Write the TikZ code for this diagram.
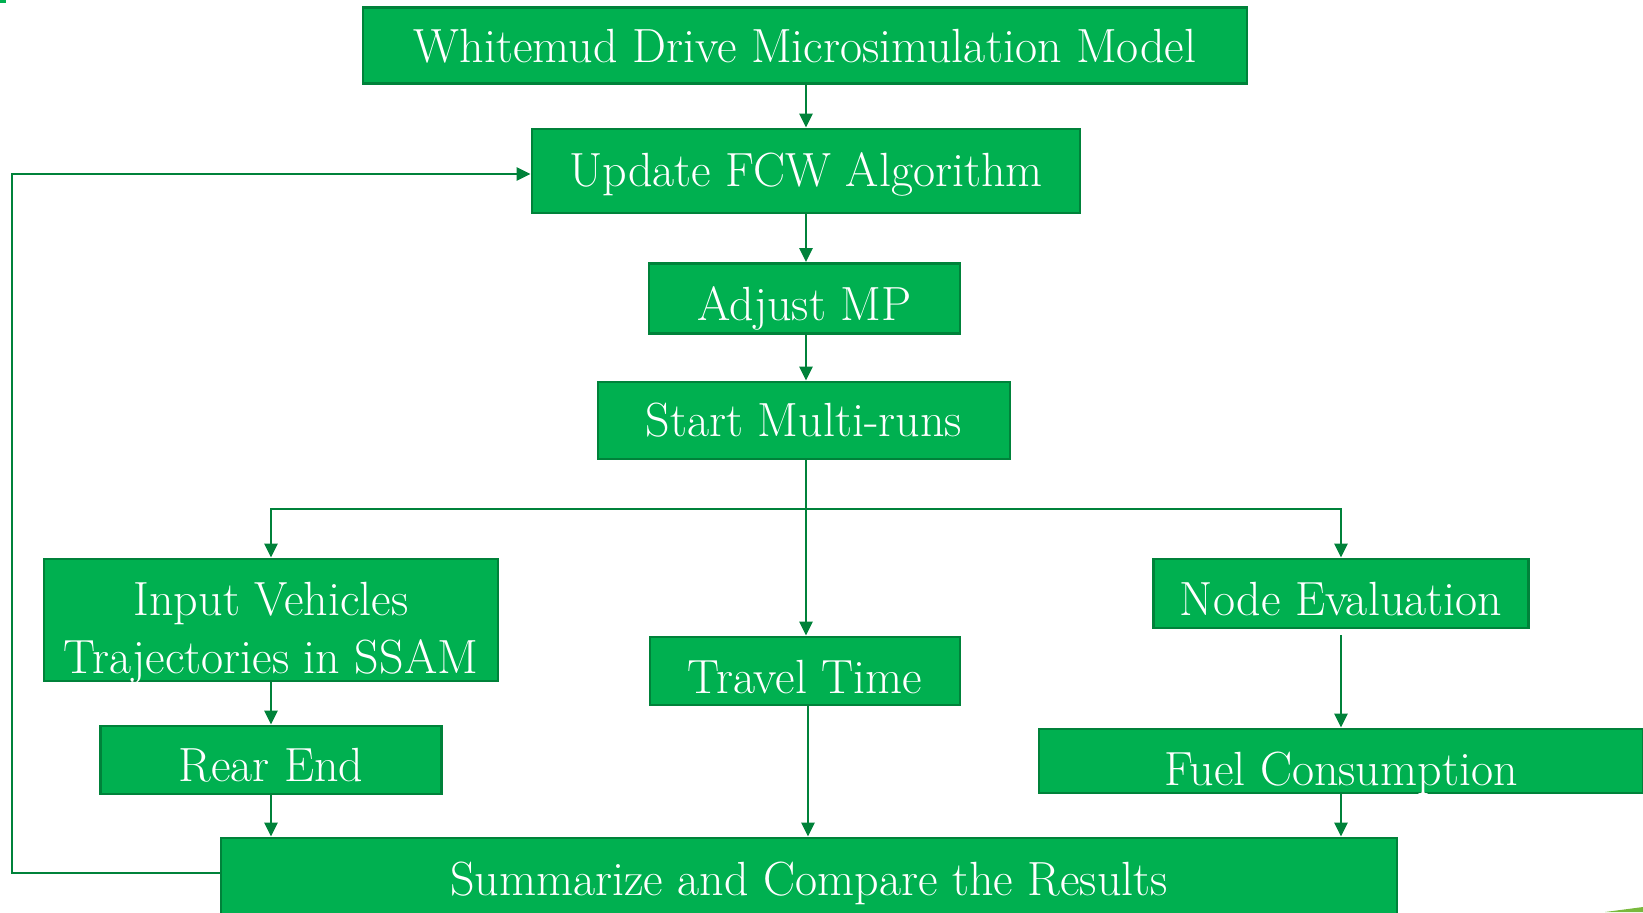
\documentclass[tikz,border=0pt]{standalone}
\usetikzlibrary{arrows.meta}
\definecolor{boxgreen}{RGB}{0,176,80}
\definecolor{edgegreen}{RGB}{0,130,58}
\definecolor{limegreen}{RGB}{120,185,60}
\tikzset{
  box/.style={draw=edgegreen, fill=boxgreen, line width=1.4pt, text=white,
    inner sep=0pt, align=center, text depth=5pt, text height=#1,
    font=\fontsize{24}{28.8}\selectfont},
  box/.default=21pt,
  arrow/.style={draw=edgegreen, line width=1.4pt, -{Triangle[length=7pt,width=6.5pt]}}
}
\begin{document}
\begin{tikzpicture}[x=0.5pt,y=-0.5pt]
    \useasboundingbox (0,0) rectangle (1643,912);
    \clip (0,0) rectangle (1643,912);
    % boxes
    \node[box=21.6pt, minimum width=442pt, minimum height=38pt] (model) at (805,45.5) {Whitemud Drive Microsimulation Model};
    \node[box=20pt, minimum width=274pt, minimum height=42pt] (update) at (806,171) {Update FCW Algorithm};
    \node[box=27pt, minimum width=155.5pt, minimum height=35pt] (adjust) at (804.5,298.5) {Adjust MP};
    \node[box=21pt, minimum width=206pt, minimum height=38.5pt] (start) at (804,420.5) {Start Multi-runs};
    \node[box=57pt, text depth=4pt, minimum width=227pt, minimum height=61pt] (input) at (271,620) {Input Vehicles\\Trajectories in SSAM};
    \node[box=26.7pt, minimum width=170.5pt, minimum height=34pt] (rear) at (271,760) {Rear End};
    \node[box=27.6pt, minimum width=155pt, minimum height=34pt] (travel) at (805,671) {Travel Time};
    \node[box=26.5pt, minimum width=187.5pt, minimum height=34.5pt] (nodeeval) at (1341,593.5) {Node Evaluation};
    \node[box=28pt, text depth=4pt, minimum width=302pt, minimum height=32pt] (fuel) at (1341,761) {Fuel Consumption};
    \node[box=20pt, minimum width=588pt, minimum height=42pt] (summ) at (809,880) {Summarize and Compare the Results};
    % arrows
    \coordinate (split) at (805,509);
    \coordinate (loop) at (12,174);
    \draw[arrow] (model.south -| update.north) -- (update.north);
    \draw[arrow] (update.south) -- (update.south |- adjust.north);
    \draw[arrow] (update.south |- adjust.south) -- (update.south |- start.north);
    \draw[arrow] (update.south |- start.south) -- (update.south |- travel.north);
    \draw[arrow] (split) -| (input.north);
    \draw[arrow] (split) -| (nodeeval.north);
    \draw[arrow] (input.south) -- (rear.north);
    \draw[arrow] (rear.south) -- (rear.south |- summ.north);
    \draw[arrow] ([xshift=1.5pt]travel.south) -- ([xshift=1.5pt]travel.south |- summ.north);
    \draw[arrow] ([yshift=-3pt]nodeeval.south) -- (fuel.north);
    \draw[arrow] (fuel.south) -- (fuel.south |- summ.north);
    \draw[arrow] ([yshift=3.5pt]summ.west) -| (loop) -- (loop -| update.west);
    % marks
    \fill[boxgreen] (0,0) rectangle (6,3);
    \fill[limegreen] (1605,912) -- (1643,907) -- (1643,912) -- cycle;
\end{tikzpicture}
\end{document}
